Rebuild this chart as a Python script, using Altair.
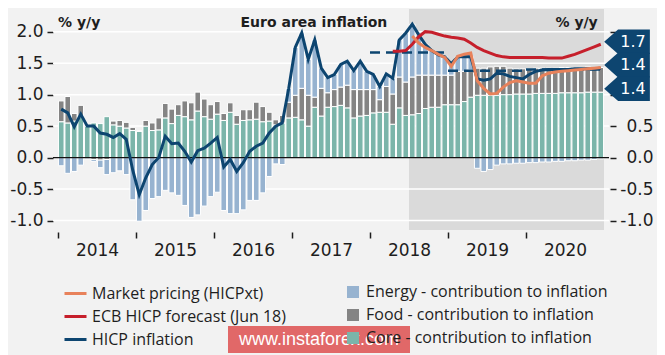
import altair as alt
import pandas as pd

# ---------------- data ----------------
start_year = 2014
n_months = 84  # Jan 2014 .. Dec 2020

core = [
    0.57, 0.55, 0.58, 0.64, 0.50, 0.55, 0.54, 0.65, 0.52, 0.50, 0.47, 0.43,
    0.42, 0.50, 0.43, 0.44, 0.63, 0.54, 0.67, 0.65, 0.60, 0.74, 0.65, 0.61,
    0.69, 0.59, 0.72, 0.53, 0.59, 0.60, 0.61, 0.57, 0.58, 0.52, 0.55, 0.63,
    0.64, 0.60, 0.50, 0.80, 0.66, 0.80, 0.81, 0.83, 0.79, 0.63, 0.66, 0.67,
    0.71, 0.72, 0.72, 0.53, 0.79, 0.67, 0.68, 0.70, 0.78, 0.80, 0.80, 0.84,
    0.84, 0.84, 0.89, 0.96, 0.99, 0.99, 0.99, 0.99, 1.00, 1.00, 1.01, 1.01,
    1.01, 1.02, 1.02, 1.02, 1.02, 1.03, 1.03, 1.03, 1.03, 1.04, 1.04, 1.04,
]
food = [
    0.33, 0.42, 0.12, 0.19, 0.02, -0.03, -0.04, -0.03, 0.06, 0.09, 0.09, 0.05,
    0.00, 0.09, 0.12, 0.19, 0.23, 0.23, 0.17, 0.25, 0.27, 0.30, 0.28, 0.23,
    0.20, 0.11, 0.15, 0.14, 0.17, 0.16, 0.27, 0.24, 0.14, 0.08, 0.12, 0.25,
    0.35, 0.50, 0.49, 0.16, 0.44, 0.23, 0.27, 0.29, 0.36, 0.45, 0.42, 0.41,
    0.37, 0.20, 0.41, 0.48, 0.49, 0.53, 0.60, 0.61, 0.53, 0.51, 0.51, 0.47,
    0.47, 0.53, 0.48, 0.43, 0.43, 0.43, 0.45, 0.46, 0.45, 0.42, 0.40, 0.40,
    0.40, 0.40, 0.40, 0.40, 0.40, 0.40, 0.40, 0.40, 0.40, 0.40, 0.39, 0.39,
]
energy = [
    -0.13, -0.25, -0.22, -0.12, -0.02, -0.03, -0.12, -0.24, -0.24, -0.21, -0.27, -0.67,
    -1.01, -0.84, -0.65, -0.62, -0.52, -0.56, -0.60, -0.76, -0.95, -0.91, -0.77, -0.62,
    -0.55, -0.84, -0.89, -0.89, -0.83, -0.68, -0.68, -0.56, -0.30, -0.10, -0.11, 0.22,
    0.76, 0.88, 0.57, 0.91, 0.32, 0.24, 0.24, 0.36, 0.38, 0.30, 0.45, 0.29,
    0.24, 0.21, 0.20, 0.25, 0.59, 0.78, 0.84, 0.64, 0.49, 0.39, 0.32, 0.29,
    0.18, 0.23, 0.23, 0.21, -0.17, -0.22, -0.19, -0.12, -0.10, -0.10, -0.09, -0.09,
    -0.08, -0.08, -0.07, -0.07, -0.06, -0.06, -0.05, -0.05, -0.04, -0.04, -0.03, -0.02,
]
hicp = [
    0.77, 0.71, 0.49, 0.69, 0.50, 0.50, 0.39, 0.37, 0.32, 0.38, 0.29, -0.20,
    -0.59, -0.32, -0.11, 0.00, 0.34, 0.22, 0.23, 0.10, -0.07, 0.11, 0.15, 0.23,
    0.32, -0.15, -0.03, -0.22, -0.08, 0.10, 0.18, 0.23, 0.39, 0.50, 0.55, 1.10,
    1.75, 1.98, 1.56, 1.87, 1.42, 1.27, 1.32, 1.48, 1.53, 1.38, 1.53, 1.37,
    1.32, 1.13, 1.33, 1.26, 1.87, 1.98, 2.12, 1.95, 1.80, 1.70, 1.63, 1.60,
    1.49, 1.60, 1.60, 1.60, 1.25, 1.23, 1.25, 1.34, 1.33, 1.29, 1.27, 1.25,
    1.32, 1.37, 1.39, 1.40, 1.40, 1.40, 1.40, 1.41, 1.41, 1.41, 1.41, 1.42,
]
ecb_start = 51  # Apr 2018
ecb = [
    1.69, 1.69, 1.70, 1.80, 1.92, 2.00, 1.99, 1.96, 1.93,
    1.91, 1.90, 1.88, 1.82, 1.75, 1.70, 1.66, 1.62, 1.60, 1.59, 1.59, 1.59,
    1.59, 1.59, 1.59, 1.58, 1.58, 1.58, 1.61, 1.64, 1.68, 1.72, 1.76, 1.80,
]
market_start = 54  # Jul 2018
market = [
    1.93, 1.82, 1.75, 1.70, 1.64, 1.59,
    1.45, 1.61, 1.64, 1.66, 1.22, 1.10, 1.01, 1.02, 1.12, 1.19, 1.22, 1.20,
    1.18, 1.18, 1.30, 1.34, 1.36, 1.37, 1.38, 1.39, 1.40, 1.41, 1.42, 1.43,
]
avg_years = [2018, 2019, 2020]
avg_values = [1.67, 1.38, 1.40]

forecast_from = 2018.5
flag_labels = ["1.7", "1.4", "1.4"]
flag_levels = [1.84, 1.47, 1.095]

comp_names = ["Core - contribution to inflation",
              "Food - contribution to inflation",
              "Energy - contribution to inflation"]
legend_bar_order = [comp_names[2], comp_names[1], comp_names[0]]
line_names = ["Market pricing (HICPxt)", "ECB HICP forecast (Jun 18)", "HICP inflation"]
y_ticks = [-1.0, -0.5, 0.0, 0.5, 1.0, 1.5, 2.0]
grid_vals = [-1.0, -0.5, 0.5, 1.0, 1.5, 2.0]

# ---------------- styles ----------------
C_CORE = "#7bb5aa"
C_FOOD = "#848484"
C_ENERGY = "#97b3d0"
C_NAVY = "#0d4570"
C_RED = "#c61f2b"
C_ORANGE = "#e8825b"
BG = "#f2f2f2"
SHADE = "#dadada"
FONT = "DejaVu Sans"
LFONT = "Open Sans"
TXT = "#1e1e1e"


def t_of(i):
    return start_year + (i + 0.5) / 12.0


bars = pd.DataFrame(
    [{"t": t_of(i), "comp": comp_names[k], "ord": k, "val": v}
     for i in range(n_months)
     for k, v in enumerate((core[i], food[i], energy[i]))]
)
# data order sets drawing order: HICP first, market pricing on top
lines = pd.DataFrame(
    [{"t": t_of(i), "series": line_names[2], "val": v} for i, v in enumerate(hicp)]
    + [{"t": t_of(ecb_start + j), "series": line_names[1], "val": v} for j, v in enumerate(ecb)]
    + [{"t": t_of(market_start + j), "series": line_names[0], "val": v} for j, v in enumerate(market)]
)
avgs = pd.DataFrame(
    [{"t": y + e, "year": y, "val": v} for y, v in zip(avg_years, avg_values) for e in (0.0, 1.0)]
)
shade = pd.DataFrame([{"x0": forecast_from, "x1": start_year + n_months / 12}])
grid = pd.DataFrame({"g": grid_vals})
zero = pd.DataFrame({"z": [0.0]})
flags = pd.DataFrame({"fx": [2021.295] * 3, "fy": flag_levels, "lab": flag_labels})
notes_left = pd.DataFrame({"x": [2014.0, 2016.34], "y": [2.08, 2.08],
                           "txt": ["% y/y", "Euro area inflation"]})
notes_right = pd.DataFrame({"x": [2020.92], "y": [2.08], "txt": ["% y/y"]})
wm = pd.DataFrame({"txt": ["www.instaforex.com"]})

xscale = alt.Scale(domain=[start_year, start_year + n_months / 12], nice=False, zero=False)
yscale = alt.Scale(domain=[-1.15, 2.36], nice=False, zero=False)

lab_expr = "replace(format(datum.value, '.1f'), '\u2212', '-')"
left_axis = alt.Axis(values=y_ticks, labelExpr=lab_expr, title=None, domain=False, grid=False,
                     tickSize=6, tickWidth=1.5, tickColor=TXT, labelPadding=4,
                     labelFont=FONT, labelFontSize=17, labelColor=TXT)
# on the right, the upper labels sit under the value flags
right_axis = alt.Axis(values=y_ticks,
                      labelExpr="datum.value >= 1 ? '' : " + lab_expr,
                      title=None, domain=False, grid=False,
                      orient="right", offset=1, tickSize=6, tickWidth=1.5, tickColor=TXT,
                      labelAlign="right", labelPadding=37,
                      labelFont=FONT, labelFontSize=17, labelColor=TXT)
x_vals = [y + h for y in range(start_year, start_year + 7) for h in (0.0, 0.5)]
x_axis = alt.Axis(values=x_vals, title=None, domain=False, grid=False,
                  labelExpr="datum.value % 1 ? '' + floor(datum.value) : ''",
                  tickOpacity={"condition": {"test": "datum.value % 1 == 0", "value": 1}, "value": 0},
                  offset=2, tickSize=6, tickWidth=1.5, tickColor=TXT, labelPadding=4,
                  labelOverlap=False, labelFlush=False,
                  labelFont=FONT, labelFontSize=17, labelColor=TXT)

shade_l = alt.Chart(shade).mark_rect(color=SHADE).encode(
    x=alt.X("x0:Q", scale=xscale, axis=None), x2="x1:Q")

grid_l = alt.Chart(grid).mark_rule(color="white", strokeWidth=1.5).encode(
    y=alt.Y("g:Q", scale=yscale, axis=left_axis))

bars_l = alt.Chart(bars).mark_bar(size=5.6, stroke="white", strokeWidth=1).encode(
    x=alt.X("t:Q", scale=xscale, axis=x_axis),
    y=alt.Y("val:Q", stack="zero", scale=yscale, axis=None),
    color=alt.Color("comp:N", scale=alt.Scale(domain=legend_bar_order,
                                              range=[C_ENERGY, C_FOOD, C_CORE]),
                    legend=alt.Legend(title=None, orient="none", legendX=292, legendY=275,
                                      direction="vertical", symbolType="square", symbolSize=144,
                                      symbolStrokeWidth=0, labelFont=LFONT, labelFontSize=16,
                                      labelColor=TXT, labelOffset=5, rowPadding=7, padding=0,
                                      labelLimit=0)),
    order=alt.Order("ord:Q"),
)

zero_l = alt.Chart(zero).mark_rule(color="#111111", strokeWidth=1.3).encode(
    y=alt.Y("z:Q", scale=yscale, axis=right_axis))

avg_l = alt.Chart(avgs).mark_line(color=C_NAVY, strokeWidth=2.5, strokeDash=[10, 6]).encode(
    x=alt.X("t:Q", scale=xscale, axis=None),
    y=alt.Y("val:Q", scale=yscale, axis=None),
    detail="year:N")

lines_l = alt.Chart(lines).mark_line(strokeWidth=3).encode(
    x=alt.X("t:Q", scale=xscale, axis=None),
    y=alt.Y("val:Q", scale=yscale, axis=None),
    color=alt.Color("series:N", scale=alt.Scale(domain=line_names, range=[C_ORANGE, C_RED, C_NAVY]),
                    legend=alt.Legend(title=None, orient="none", legendX=10, legendY=272,
                                      direction="vertical", symbolType="stroke", symbolSize=484,
                                      symbolStrokeWidth=3, labelFont=LFONT, labelFontSize=16,
                                      labelColor=TXT, labelOffset=4, rowPadding=2, padding=0,
                                      labelLimit=0)),
    order="t:Q",
)

notes_l = alt.Chart(notes_left).mark_text(align="left", baseline="alphabetic", font=FONT,
                                          fontSize=14, fontWeight="bold", color=TXT).encode(
    x=alt.X("x:Q", scale=xscale, axis=None), y=alt.Y("y:Q", scale=yscale, axis=None), text="txt:N")
notes_r = alt.Chart(notes_right).mark_text(align="right", baseline="alphabetic", font=FONT,
                                           fontSize=14, fontWeight="bold", color=TXT).encode(
    x=alt.X("x:Q", scale=xscale, axis=None), y=alt.Y("y:Q", scale=yscale, axis=None), text="txt:N")

flag_path = "M-1,0L-0.39,-0.54L1,-0.54L1,0.54L-0.39,0.54Z"
flags_l = alt.Chart(flags).mark_point(shape=flag_path, size=2088, filled=True, fill=C_NAVY,
                                      opacity=1, strokeWidth=0).encode(
    x=alt.X("fx:Q", scale=xscale, axis=None), y=alt.Y("fy:Q", scale=yscale, axis=None))
flag_txt = alt.Chart(flags).mark_text(color="white", font=FONT, fontSize=16, dx=6,
                                      align="center", baseline="middle").encode(
    x=alt.X("fx:Q", scale=xscale, axis=None), y=alt.Y("fy:Q", scale=yscale, axis=None), text="lab:N")

wm_box = alt.Chart(wm).mark_rect(color="#e05c5c", opacity=0.92).encode(
    x=alt.value(175), x2=alt.value(357), y=alt.value(317), y2=alt.value(344))
wm_txt = alt.Chart(wm).mark_text(color="white", font="Liberation Sans", fontSize=18,
                                 align="center", baseline="middle").encode(
    x=alt.value(266), y=alt.value(331), text="txt:N")

chart = alt.layer(
    shade_l, grid_l, bars_l, zero_l, avg_l, lines_l, notes_l, notes_r, flags_l, flag_txt,
    wm_box, wm_txt,
).resolve_scale(color="independent").resolve_axis(x="independent", y="independent").properties(
    width=556, height=221, background=BG,
    autosize=alt.AutoSizeParams(type="none"),
    padding={"left": 45, "top": 1, "right": 48, "bottom": 126},
).configure_view(strokeWidth=0)

chart.save("out.html", embed_options={"renderer": "svg", "actions": False})
